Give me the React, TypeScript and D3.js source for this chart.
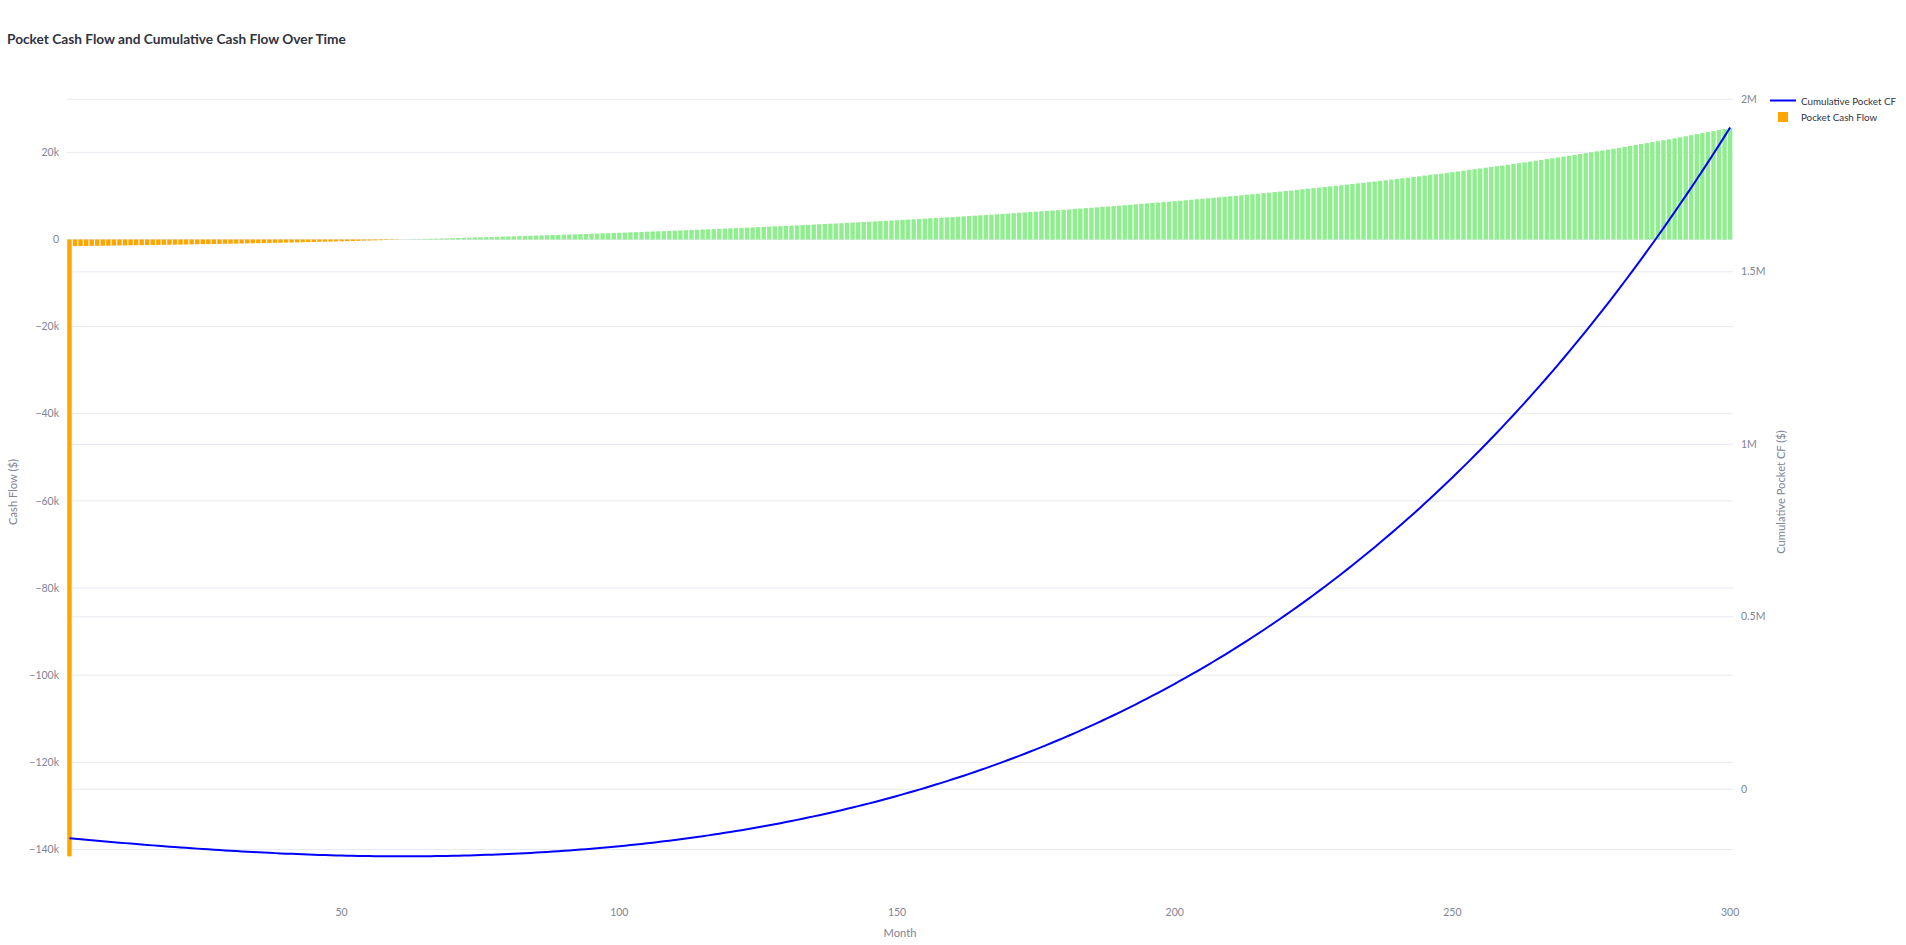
import React, {useEffect, useRef} from 'react';
import * as d3 from 'd3';

// month index 1..300
const months = d3.range(1, 301);

// monthly pocket cash flow ($)
const pocketCashFlow = [
  -141600, -1520, -1500, -1490, -1470, -1450, -1440, -1420, -1400, -1380,
  -1360, -1340, -1320, -1300, -1290, -1270, -1250, -1230, -1210, -1190,
  -1170, -1150, -1130, -1100, -1080, -1060, -1040, -1020, -990, -970,
  -950, -920, -900, -870, -850, -820, -800, -770, -750, -720,
  -690, -660, -630, -600, -570, -540, -510, -480, -450, -420,
  -380, -350, -310, -270, -240, -200, -160, -120, -90, -50,
  -10, 20, 60, 90, 130, 170, 200, 240, 270, 310,
  350, 390, 420, 460, 500, 540, 580, 610, 650, 690,
  730, 770, 810, 850, 900, 940, 980, 1020, 1060, 1100,
  1140, 1190, 1230, 1280, 1320, 1360, 1410, 1450, 1500, 1540,
  1590, 1640, 1690, 1740, 1790, 1830, 1880, 1930, 1980, 2030,
  2080, 2130, 2190, 2240, 2290, 2340, 2390, 2450, 2500, 2550,
  2610, 2660, 2720, 2780, 2840, 2890, 2950, 3010, 3060, 3120,
  3180, 3240, 3310, 3370, 3430, 3490, 3550, 3620, 3680, 3740,
  3810, 3880, 3940, 4010, 4080, 4150, 4220, 4280, 4350, 4420,
  4490, 4570, 4640, 4710, 4790, 4860, 4930, 5000, 5080, 5150,
  5230, 5310, 5390, 5470, 5550, 5630, 5710, 5790, 5870, 5950,
  6040, 6120, 6210, 6300, 6390, 6470, 6560, 6650, 6730, 6820,
  6910, 7010, 7100, 7200, 7290, 7380, 7480, 7570, 7670, 7760,
  7860, 7970, 8070, 8170, 8280, 8380, 8480, 8580, 8690, 8790,
  8900, 9010, 9130, 9240, 9350, 9460, 9570, 9690, 9800, 9910,
  10030, 10150, 10270, 10390, 10520, 10640, 10760, 10880, 11000, 11120,
  11250, 11390, 11520, 11650, 11790, 11920, 12050, 12180, 12320, 12450,
  12590, 12740, 12880, 13020, 13170, 13310, 13450, 13590, 13740, 13880,
  14040, 14190, 14350, 14510, 14670, 14820, 14980, 15140, 15290, 15450,
  15620, 15790, 15960, 16130, 16300, 16470, 16640, 16810, 16980, 17150,
  17340, 17520, 17710, 17890, 18080, 18270, 18450, 18640, 18820, 19010,
  19210, 19410, 19610, 19810, 20020, 20220, 20420, 20620, 20820, 21020,
  21240, 21460, 21680, 21900, 22120, 22340, 22560, 22780, 23000, 23220,
  23460, 23700, 23940, 24180, 24420, 24650, 24890, 25130, 25370, 25610,
];

// left axis ticks
const cfTicks = [20000, 0, -20000, -40000, -60000, -80000, -100000, -120000, -140000];
const cfTickLabels = ['20k', '0', '\u221220k', '\u221240k', '\u221260k', '\u221280k', '\u2212100k', '\u2212120k', '\u2212140k'];

// right axis ticks
const cumTicks = [0, 500000, 1000000, 1500000, 2000000];
const cumTickLabels = ['0', '0.5M', '1M', '1.5M', '2M'];

// bottom axis ticks
const monthTicks = [50, 100, 150, 200, 250, 300];

const FONT = "Lato, 'Open Sans', sans-serif";
const GRID = '#e6e9ef';
const TICK = '#808495';
const DARK = '#31333F';

function App() {
  const chartRef = useRef(null);

  const width = 1906;
  const height = 945;
  const plot = {left: 66.7, right: 1732.9, top: 87, bottom: 893};

  const xScale = d3.scaleLinear().domain([0.5, 300.5]).range([plot.left, plot.right]);
  const xBand = d3.scaleBand<number>()
    .domain(months)
    .range([plot.left, plot.right])
    .paddingInner(0.2)
    .paddingOuter(0.1);
  const yLeft = d3.scaleLinear().domain([-150000, 35000]).range([plot.bottom, plot.top]);
  const yRight = d3.scaleLinear().domain([-300600, 2035700]).range([plot.bottom, plot.top]);

  const cumulative = Array.from(d3.cumsum(pocketCashFlow));

  useEffect(() => {
    document.body.style.margin = '0';
    document.body.style.overflow = 'hidden';

    const svg = d3.select(chartRef.current);
    svg.selectAll('*').remove();

    svg.append('rect').attr('width', width).attr('height', height).attr('fill', '#fff');

    // title
    svg.append('text')
      .attr('x', 7)
      .attr('y', 44)
      .attr('font-family', FONT)
      .attr('font-size', 13.7)
      .attr('font-weight', 700)
      .attr('fill', DARK)
      .text('Pocket Cash Flow and Cumulative Cash Flow Over Time');

    // grid lines, both y axes
    const grid = svg.append('g');
    grid.selectAll('line.l')
      .data(cfTicks)
      .enter()
      .append('line')
      .attr('class', 'l')
      .attr('x1', plot.left).attr('x2', plot.right)
      .attr('y1', d => yLeft(d)).attr('y2', d => yLeft(d))
      .attr('stroke', GRID).attr('stroke-width', 1);
    grid.selectAll('line.r')
      .data(cumTicks)
      .enter()
      .append('line')
      .attr('class', 'r')
      .attr('x1', plot.left).attr('x2', plot.right)
      .attr('y1', d => yRight(d)).attr('y2', d => yRight(d))
      .attr('stroke', GRID).attr('stroke-width', 1);

    // bars
    svg.append('g')
      .selectAll('rect')
      .data(pocketCashFlow)
      .enter()
      .append('rect')
      .attr('x', (d, i) => xBand(months[i]) as number)
      .attr('width', xBand.bandwidth())
      .attr('y', d => Math.min(yLeft(d), yLeft(0)))
      .attr('height', d => Math.abs(yLeft(d) - yLeft(0)))
      .attr('fill', d => d < 0 ? '#FFA500' : '#90EE90');

    // cumulative line
    const line = d3.line<number>()
      .x((d, i) => xScale(months[i]))
      .y(d => yRight(d));
    svg.append('path')
      .datum(cumulative)
      .attr('d', line)
      .attr('fill', 'none')
      .attr('stroke', '#0000FF')
      .attr('stroke-width', 2);

    // tick labels
    svg.append('g')
      .selectAll('text')
      .data(cfTicks)
      .enter()
      .append('text')
      .attr('x', 59)
      .attr('y', d => yLeft(d))
      .attr('dy', '0.35em')
      .attr('text-anchor', 'end')
      .attr('font-family', FONT)
      .attr('font-size', 10.5)
      .attr('fill', TICK)
      .text((d, i) => cfTickLabels[i]);

    svg.append('g')
      .selectAll('text')
      .data(cumTicks)
      .enter()
      .append('text')
      .attr('x', 1741)
      .attr('y', d => yRight(d))
      .attr('dy', '0.35em')
      .attr('text-anchor', 'start')
      .attr('font-family', FONT)
      .attr('font-size', 10.5)
      .attr('fill', TICK)
      .text((d, i) => cumTickLabels[i]);

    svg.append('g')
      .selectAll('text')
      .data(monthTicks)
      .enter()
      .append('text')
      .attr('x', d => xScale(d))
      .attr('y', 912)
      .attr('dy', '0.35em')
      .attr('text-anchor', 'middle')
      .attr('font-family', FONT)
      .attr('font-size', 10.5)
      .attr('fill', TICK)
      .text(d => String(d));

    // axis titles
    svg.append('text')
      .attr('x', 900).attr('y', 933).attr('dy', '0.35em')
      .attr('text-anchor', 'middle')
      .attr('font-family', FONT).attr('font-size', 11.2)
      .attr('fill', TICK)
      .text('Month');
    svg.append('text')
      .attr('transform', 'translate(13,492) rotate(-90)')
      .attr('dy', '0.35em')
      .attr('text-anchor', 'middle')
      .attr('font-family', FONT).attr('font-size', 11.2)
      .attr('fill', TICK)
      .text('Cash Flow ($)');
    svg.append('text')
      .attr('transform', 'translate(1781,492) rotate(-90)')
      .attr('dy', '0.35em')
      .attr('text-anchor', 'middle')
      .attr('font-family', FONT).attr('font-size', 11.2)
      .attr('fill', TICK)
      .text('Cumulative Pocket CF ($)');

    // legend
    const legend = svg.append('g');
    legend.append('line')
      .attr('x1', 1770).attr('x2', 1796)
      .attr('y1', 100.5).attr('y2', 100.5)
      .attr('stroke', '#0000FF').attr('stroke-width', 2);
    legend.append('text')
      .attr('x', 1801).attr('y', 101.5).attr('dy', '0.35em')
      .attr('font-family', FONT).attr('font-size', 9.8)
      .attr('fill', DARK)
      .text('Cumulative Pocket CF');
    legend.append('rect')
      .attr('x', 1778).attr('y', 112).attr('width', 10).attr('height', 10)
      .attr('fill', '#FFA500');
    legend.append('text')
      .attr('x', 1801).attr('y', 117.5).attr('dy', '0.35em')
      .attr('font-family', FONT).attr('font-size', 9.8)
      .attr('fill', DARK)
      .text('Pocket Cash Flow');
  });

  return (
    <svg ref={chartRef} width={width} height={height} style={{display: 'block'}}/>
  );
}

export default App;
